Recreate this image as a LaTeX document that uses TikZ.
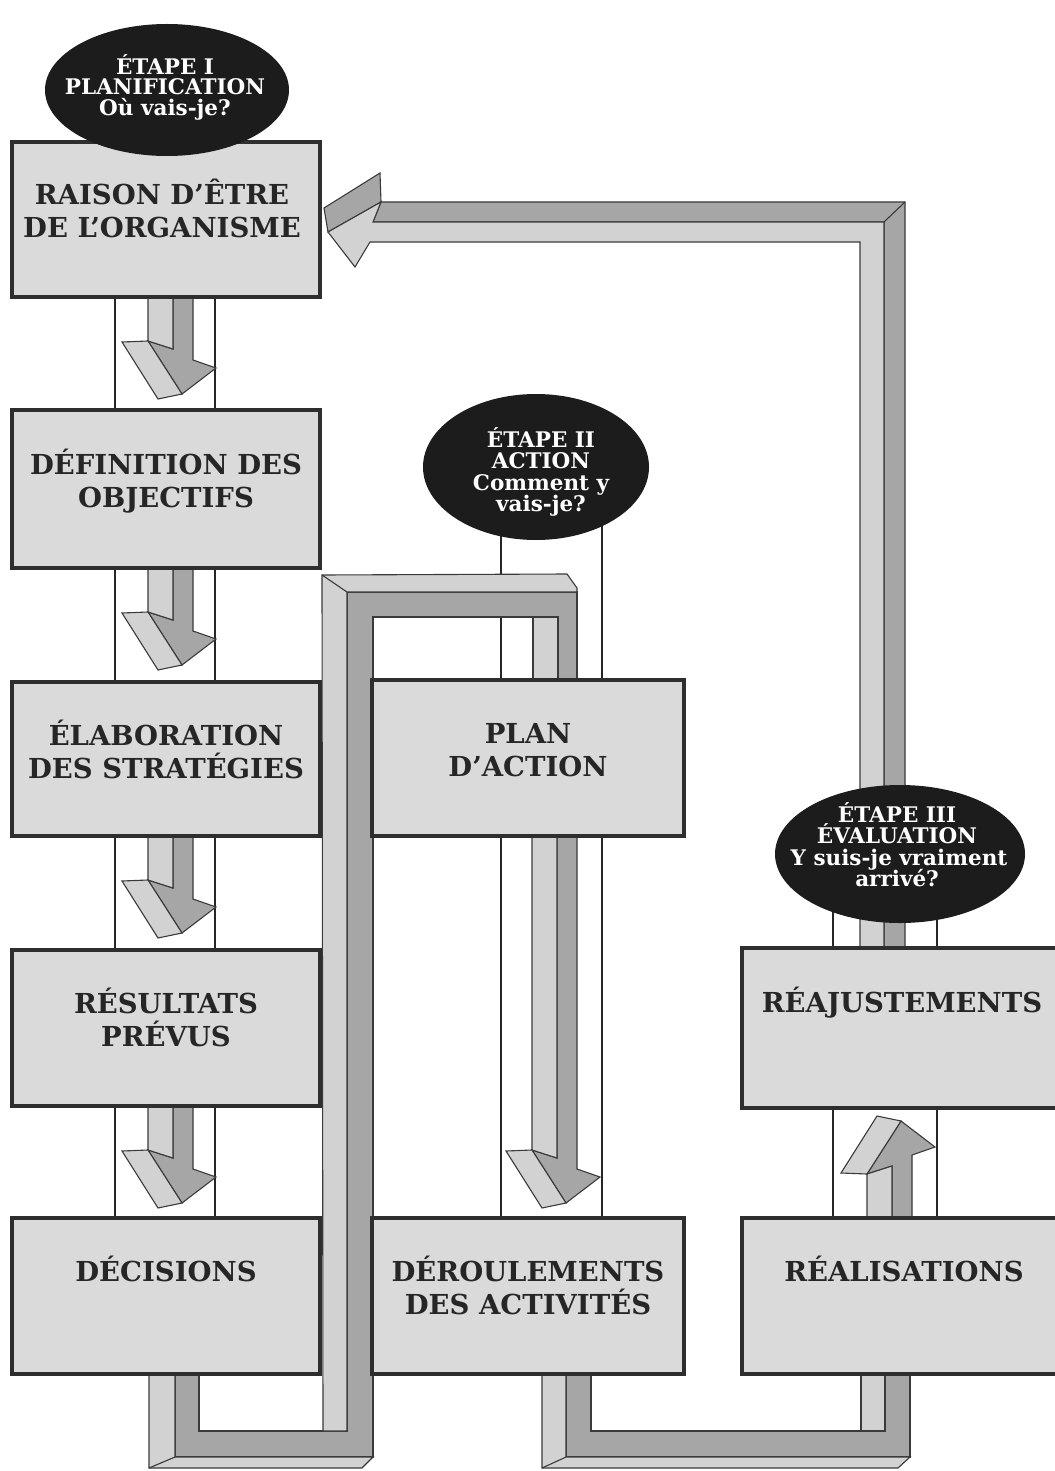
\documentclass[tikz,border=0pt]{standalone}
\usepackage{fontspec}
\setmainfont{DejaVu Serif}
\usetikzlibrary{shapes.geometric}
\definecolor{boxfill}{HTML}{DADADA}
\definecolor{boxline}{HTML}{2E2E2E}
\definecolor{ellfill}{HTML}{1C1C1C}
\definecolor{txtcol}{HTML}{262626}
\definecolor{ribLight}{HTML}{D2D2D2}
\definecolor{ribDark}{HTML}{A6A6A6}
\definecolor{ribline}{HTML}{3A3A3A}
\newcommand\tdarrow[1]{%
  \filldraw[ribD] (25,0) -- (45,0) -- (45,#1+19) -- (68,#1+27) -- (34,#1+53) -- (0,#1) -- (25,#1+8) -- cycle;
  \filldraw[ribL] (0,0) -- (25,0) -- (25,#1+8) -- (0,#1) -- cycle;
  \filldraw[ribL] (-26,#1+1) -- (0,#1) -- (34,#1+53) -- (10,#1+58) -- cycle;
}
\tikzset{
  boxpos/.style={inner sep=0pt},
  box/.style={draw=boxline, line width=3.5pt, fill=boxfill},
  ell/.style={fill=ellfill},
  boxtxt/.style={font=\fontsize{27.5}{33}\selectfont\bfseries, text=txtcol, anchor=base, inner sep=0pt},
  elltxt/.style={font=\fontsize{21.5}{21}\selectfont\bfseries, text=white, anchor=base, inner sep=0pt},
  chan/.style={line width=1.3pt, draw=black!85},
  ribL/.style={fill=ribLight, draw=ribline, line width=1.1pt, line join=miter},
  ribD/.style={fill=ribDark, draw=ribline, line width=1.1pt, line join=miter},
  ribedge/.style={draw=ribline, line width=1.1pt},
}
\begin{document}
\begin{tikzpicture}[x=1pt,y=-1pt]
\useasboundingbox (0,0) rectangle (1054,1471);
\fill[white] (0,0) rectangle (1054,1471);

% box and ellipse positions
\path
  (166,219.5) node[boxpos, minimum width=308pt, minimum height=155pt] (b1) {}
  (166,489)   node[boxpos, minimum width=308pt, minimum height=158pt] (b2) {}
  (166,759)   node[boxpos, minimum width=308pt, minimum height=154pt] (b3) {}
  (166,1028)  node[boxpos, minimum width=308pt, minimum height=156pt] (b4) {}
  (166,1296)  node[boxpos, minimum width=308pt, minimum height=156pt] (b5) {}
  (528,758)   node[boxpos, minimum width=312pt, minimum height=156pt] (b6) {}
  (528,1296)  node[boxpos, minimum width=312pt, minimum height=156pt] (b7) {}
  (902,1028)  node[boxpos, minimum width=320pt, minimum height=160pt] (b8) {}
  (902,1296)  node[boxpos, minimum width=320pt, minimum height=156pt] (b9) {};
\coordinate (e1) at (167,90);
\coordinate (e2) at (536,467);
\coordinate (e3) at (900,854);

% thin channel lines
\foreach \u/\v in {b1/b2,b2/b3,b3/b4,b4/b5}{
  \draw[chan] (115,0 |- \u.south) -- (115,0 |- \v.north);
  \draw[chan] (215,0 |- \u.south) -- (215,0 |- \v.north);
}
\draw[chan] (501,0 |- e2) -- (501,0 |- b6.north);
\draw[chan] (602,0 |- e2) -- (602,0 |- b6.north);
\draw[chan] (501,0 |- b6.south) -- (501,0 |- b7.north);
\draw[chan] (602,0 |- b6.south) -- (602,0 |- b7.north);
\draw[chan] (833,0 |- e3) -- (833,0 |- b8.north);
\draw[chan] (937,0 |- e3) -- (937,0 |- b8.north);
\draw[chan] (833,0 |- b8.south) -- (833,0 |- b9.north);
\draw[chan] (937,0 |- b8.south) -- (937,0 |- b9.north);

% small down arrows (left column)
\foreach \yy in {297,568,836,1106}{
  \begin{scope}[shift={(148,\yy)}]\tdarrow{44}\end{scope}
}
% long down arrow PLAN -> DEROULEMENTS
\begin{scope}[shift={(532,836)}]\tdarrow{314}\end{scope}
% up arrow REALISATIONS -> REAJUSTEMENTS
\begin{scope}[shift={(867,1218)}, yscale=-1]\tdarrow{44}\end{scope}

% ribbon 1 : DECISIONS -> PLAN D'ACTION
\filldraw[ribD] (175,1374) -- (199,1374) -- (199,1431) -- (347,1431) -- (347,592) -- (577,592) -- (577,680) -- (558,680) -- (558,617) -- (373,617) -- (373,1457) -- (175,1457) -- cycle;
\filldraw[ribL] (149,1374) -- (175,1374) -- (175,1457) -- (373,1457) -- (362,1468) -- (149,1468) -- cycle;
\draw[ribedge] (175,1457) -- (149,1468);
\filldraw[ribL] (323,1431) -- (347,1431) -- (347,592) -- (577,592) -- (577,588) -- (567,574) -- (322,575) -- cycle;
\draw[ribedge] (322,575) -- (347,592);
\filldraw[ribL] (533,617) -- (558,617) -- (558,680) -- (533,680) -- cycle;

% ribbon 2 : DEROULEMENTS -> REALISATIONS
\filldraw[ribD] (566,1374) -- (591,1374) -- (591,1431) -- (885,1431) -- (885,1374) -- (910,1374) -- (910,1457) -- (566,1457) -- cycle;
\filldraw[ribL] (542,1374) -- (566,1374) -- (566,1457) -- (910,1457) -- (898,1468) -- (542,1468) -- cycle;
\draw[ribedge] (566,1457) -- (542,1468);
\filldraw[ribL] (861,1374) -- (885,1374) -- (885,1431) -- (861,1431) -- cycle;

% return ribbon : REAJUSTEMENTS -> RAISON D'ETRE
\filldraw[ribD] (324,208) -- (380,173) -- (381,202) -- (328,232) -- cycle;
\filldraw[ribD] (381,202) -- (905,202) -- (905,948) -- (884,948) -- (884,222) -- (373,222) -- cycle;
\draw[ribedge] (884,222) -- (905,202);
\filldraw[ribL] (328,232) -- (381,202) -- (373,222) -- (884,222) -- (884,948) -- (860,948) -- (860,242) -- (370,242) -- (355,267) -- cycle;

% boxes
\foreach \b in {b1,b2,b3,b4,b5,b6,b7,b8,b9}{
  \draw[box] (\b.south west) rectangle (\b.north east);
}
% ellipses
\fill[ell] (e1) ellipse [x radius=122, y radius=66];
\fill[ell] (e2) ellipse [x radius=113, y radius=73];
\fill[ell] (e3) ellipse [x radius=125, y radius=69];

% box texts
\node[boxtxt] (t1a) at (162,205) {RAISON D’ÊTRE};
\node[boxtxt] (t1b) at (162,238) {DE L’ORGANISME};
\node[boxtxt] (t2a) at (166,474) {DÉFINITION DES};
\node[boxtxt] (t2b) at (166,507) {OBJECTIFS};
\node[boxtxt] (t3a) at (166,745) {ÉLABORATION};
\node[boxtxt] (t3b) at (166,778) {DES STRATÉGIES};
\node[boxtxt] (t4a) at (166,1013) {RÉSULTATS};
\node[boxtxt] (t4b) at (166,1046) {PRÉVUS};
\node[boxtxt] (t5a) at (166,1281) {DÉCISIONS};
\node[boxtxt] (t6a) at (528,743) {PLAN};
\node[boxtxt] (t6b) at (528,776) {D’ACTION};
\node[boxtxt] (t7a) at (528,1281) {DÉROULEMENTS};
\node[boxtxt] (t7b) at (528,1314) {DES ACTIVITÉS};
\node[boxtxt] (t8a) at (902,1012) {RÉAJUSTEMENTS};
\node[boxtxt] (t9a) at (904,1281) {RÉALISATIONS};

% ellipse texts
\node[elltxt] (u1a) at (165,75) {ÉTAPE I};
\node[elltxt] (u1b) at (165,95) {PLANIFICATION};
\node[elltxt] (u1c) at (165,116) {Où vais-je?};
\node[elltxt] (u2a) at (541,447) {ÉTAPE II};
\node[elltxt] (u2b) at (541,468) {ACTION};
\node[elltxt] (u2c) at (541,490) {Comment y};
\node[elltxt] (u2d) at (541,511) {vais-je?};
\node[elltxt] (u3a) at (897,822) {ÉTAPE III};
\node[elltxt] (u3b) at (897,843) {ÉVALUATION};
\node[elltxt] (u3c) at (899,865) {Y suis-je vraiment};
\node[elltxt] (u3d) at (897,886) {arrivé?};
\end{tikzpicture}
\end{document}
